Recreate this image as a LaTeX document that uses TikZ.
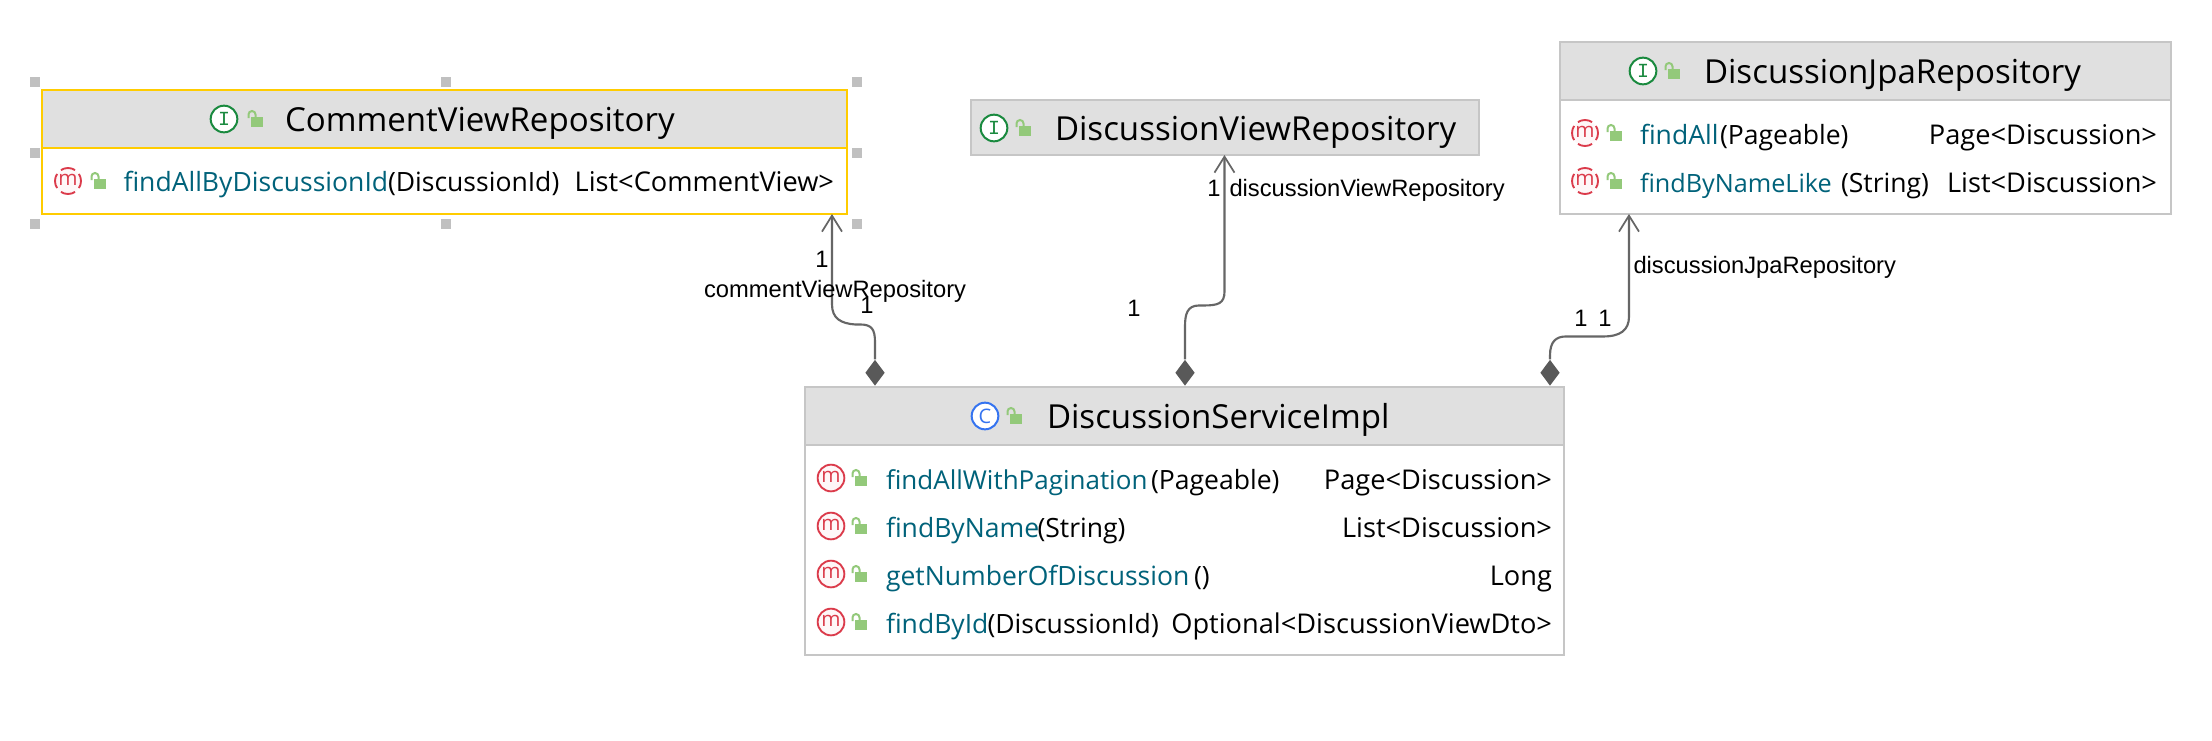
\documentclass[tikz,border=0pt]{standalone}
\usepackage{fontspec}
\setmainfont{Open Sans}
\newfontfamily\lblfont{Liberation Sans}
\newfontfamily\monofont{Liberation Mono}
\usetikzlibrary{arrows.meta,shapes.geometric}
\definecolor{hdr}{HTML}{E0E0E0}
\definecolor{bord}{HTML}{C6C6C6}
\definecolor{sel}{HTML}{FFCC00}
\definecolor{teal}{HTML}{00627A}
\definecolor{mred}{HTML}{DB3B4B}
\definecolor{igreen}{HTML}{1A8A3F}
\definecolor{cblue}{HTML}{3574F0}
\definecolor{lockg}{HTML}{93C97A}
\definecolor{conn}{HTML}{666666}
\definecolor{diam}{HTML}{595959}
\definecolor{handle}{HTML}{C0C0C0}
\tikzset{
  x=0.75pt,y=-0.75pt,
  txt/.style={inner sep=0,outer sep=0,anchor=base west,text=black},
  title/.style={txt,font=\fontsize{24.8pt}{28pt}\selectfont},
  mname/.style={txt,text=teal,font=\fontsize{19.9pt}{22pt}\selectfont},
  mtext/.style={txt,font=\fontsize{19.9pt}{22pt}\selectfont},
  mtype/.style={txt,anchor=base east,font=\fontsize{20.4pt}{22pt}\selectfont},
  lbl/.style={txt,font=\lblfont\fontsize{17.8pt}{20pt}\selectfont},
  lblc/.style={lbl,anchor=base},
  handlebox/.style={draw=none,fill=handle,inner sep=0,minimum size=7.5pt,rectangle},
  composite/.style={diamond,fill=diam,draw=none,inner sep=0,aspect=0.73,minimum width=14.6pt,minimum height=19.5pt},
  assoc/.style={draw=conn,line width=1.6pt,-{Straight Barb[length=12pt,width=15pt,line width=1.3pt]}},
}
% box: id, left, top, right, bottom, separator, colour
\newcommand{\umlbox}[7]{%
  \node[rectangle,draw=#7,fill=white,line width=1.6pt,inner sep=0,outer sep=0,
    minimum width={(#4-#2)*0.75pt},minimum height={(#5-#3)*0.75pt}] (#1) at ({(#2+#4)/2},{(#3+#5)/2}) {};
  \node[rectangle,draw=#7,fill=hdr,line width=1.6pt,inner sep=0,outer sep=0,
    minimum width={(#4-#2)*0.75pt},minimum height={(#6-#3)*0.75pt}] (#1h) at ({(#2+#4)/2},{(#3+#6)/2}) {};
}
% kind icon: id, colour, cx, cy, letter
\newcommand{\kindicon}[5]{%
  \node[circle,draw=#2,fill=white,line width=1.5pt,inner sep=0,minimum size=20pt,text=#2,
    font=\fontsize{15pt}{14pt}\selectfont] (#1) at (#3,#4) {#5};
}
% method icon: id, cx, cy
\newcommand{\absicon}[3]{%
  \node[circle,fill=mred!4,inner sep=0,minimum size=19.5pt,text=mred,font=\fontsize{15.5pt}{14pt}\selectfont] (#1) at (#2,#3) {\raisebox{1pt}{m}};
  \foreach \a in {0,90,180,270}{
    \draw[mred,line width=1.4pt] ([shift={(\a+33:13)}]#1.center) arc (\a+33:\a-33:13);
  }
}
\newcommand{\conicon}[3]{%
  \node[circle,draw=mred,fill=mred!4,line width=1.4pt,inner sep=0,minimum size=20pt,text=mred,font=\fontsize{15.5pt}{14pt}\selectfont] (#1) at (#2,#3) {\raisebox{1pt}{m}};
}
% open lock: left x, bottom y
\newcommand{\lockicon}[2]{%
  \fill[lockg] (#1+4,#2-10) rectangle (#1+16,#2);
  \draw[lockg,line width=1.5pt] (#1+1.5,#2-9) -- (#1+1.5,#2-12.5) arc (180:360:3.5) -- (#1+8.5,#2-10);
}
\begin{document}
\begin{tikzpicture}
\useasboundingbox (0,0) rectangle (2212,740);
\fill[white] (0,0) rectangle (2212,740);

% selection handles
\foreach \nn/\hx/\hy in {a/35/82,b/446/82,c/856.5/82,d/35/153,e/856.5/153,f/35/224,g/446/224,h/856.5/224}{
  \node[handlebox] (hd\nn) at (\hx,\hy) {};
}

% CommentViewRepository
\umlbox{cv}{42}{90}{847}{214}{148}{sel}
\kindicon{cvi}{igreen}{224}{119}{\monofont I}
\lockicon{247}{127}
\node[title] (cvt) at (285,131) {CommentViewRepository};
\absicon{cvm}{68}{181}
\lockicon{90}{189}
\node[mname] (cvn) at (123.5,191) {findAllByDiscussionId};
\node[mtext] (cvp) at (388,191) {(DiscussionId)};
\node[mtype] (cvy) at (834,191) {List<CommentView>};

% DiscussionViewRepository
\umlbox{vr}{971}{100}{1479}{155}{155}{bord}
\kindicon{vri}{igreen}{994}{128}{\monofont I}
\lockicon{1015}{136}
\node[title] (vrt) at (1055,140) {DiscussionViewRepository};

% DiscussionJpaRepository
\umlbox{jr}{1560}{42}{2171}{214}{100}{bord}
\kindicon{jri}{igreen}{1643}{71}{\monofont I}
\lockicon{1664}{79}
\node[title] (jrt) at (1704,83) {DiscussionJpaRepository};
\absicon{jm1}{1585}{133}
\lockicon{1606}{141}
\node[mname] (jn1) at (1640,144) {findAll};
\node[mtext] (jp1) at (1720,144) {(Pageable)};
\node[mtype] (jy1) at (2157,144) {Page<Discussion>};
\absicon{jm2}{1585}{181}
\lockicon{1606}{189}
\node[mname,font=\fontsize{18.9pt}{22pt}\selectfont] (jn2) at (1640,192) {findByNameLike};
\node[mtext] (jp2) at (1841,192) {(String)};
\node[mtype] (jy2) at (2157,192) {List<Discussion>};

% DiscussionServiceImpl
\umlbox{si}{805}{387}{1564}{655}{445}{bord}
\kindicon{sii}{cblue}{985}{416}{C}
\lockicon{1006}{424}
\node[title] (sit) at (1047,428) {DiscussionServiceImpl};
\conicon{sm1}{831}{478}
\lockicon{851}{486}
\node[mname,font=\fontsize{19.5pt}{22pt}\selectfont] (sn1) at (886,489) {findAllWithPagination};
\node[mtext] (sp1) at (1151,489) {(Pageable)};
\node[mtype] (sy1) at (1552,489) {Page<Discussion>};
\conicon{sm2}{831}{526}
\lockicon{851}{534}
\node[mname] (sn2) at (886,537) {findByName};
\node[mtext] (sp2) at (1037.5,537) {(String)};
\node[mtype] (sy2) at (1552,537) {List<Discussion>};
\conicon{sm3}{831}{574}
\lockicon{851}{582}
\node[mname] (sn3) at (886,585) {getNumberOfDiscussion};
\node[mtext] (sp3) at (1194,585) {()};
\node[mtype] (sy3) at (1552,585) {Long};
\conicon{sm4}{831}{622}
\lockicon{851}{630}
\node[mname] (sn4) at (886,633) {findById};
\node[mtext] (sp4) at (987.5,633) {(DiscussionId)};
\node[mtype] (sy4) at (1552,633) {Optional<DiscussionViewDto>};

% composition diamonds
\node[composite,anchor=south] (da) at (875,386) {};
\node[composite,anchor=south] (db) at (1185,386) {};
\node[composite,anchor=south] (dc) at (1550,386) {};

% connectors
\draw[assoc] (da.north) -- ++(0,-17) .. controls +(0,-13) and +(12,0) .. ++(-15,-18) -- ++(-5,0) .. controls +(-14,-1) and +(0,14) .. ++(-23,-20) -- ([xshift=290.6pt]cv.south);
\draw[assoc] (db.north) -- ++(0,-33) .. controls +(0,-12) and +(-12,0) .. ++(14,-21) -- ++(5,0) .. controls +(14,0) and +(0,12) .. ++(20.5,-14) -- ([xshift=-0.4pt]vr.south);
\draw[assoc] (dc.north) -- ++(0,-4) .. controls +(0,-14) and +(-10,0) .. ++(16,-19) -- ++(37,0) .. controls +(17,0) and +(0,14) .. ++(26,-20) -- ([xshift=-177.4pt]jr.south);

% labels
\node[lblc] (l1) at (822,267) {1};
\node[lbl] (l2) at (704,297) {commentViewRepository};
\node[lblc] (l3) at (867,313) {1};
\node[lblc] (l4) at (1214,196) {1};
\node[lbl] (l5) at (1229.5,196) {discussionViewRepository};
\node[lblc] (l6) at (1134,316) {1};
\node[lblc] (l7) at (1581,326) {1};
\node[lblc] (l8) at (1605,326) {1};
\node[lbl] (l9) at (1633.5,273) {discussionJpaRepository};
\end{tikzpicture}
\end{document}
